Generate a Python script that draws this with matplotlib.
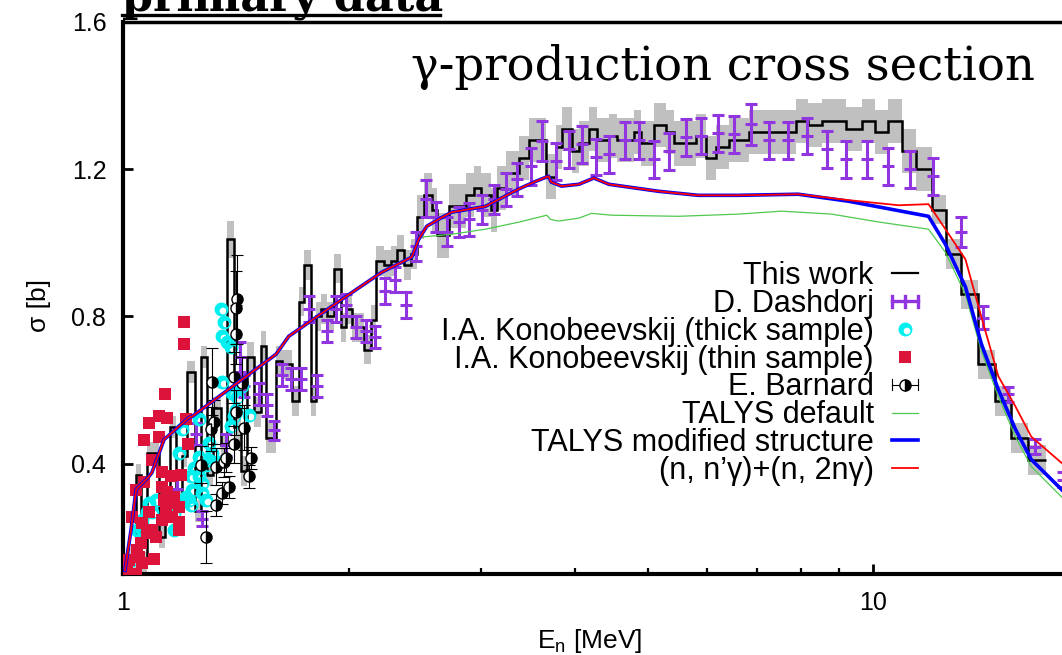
import numpy as np
import matplotlib
matplotlib.use("Agg")
import matplotlib.pyplot as plt
from matplotlib.lines import Line2D
from matplotlib.path import Path
from matplotlib.legend_handler import HandlerBase

# ---------------- data ----------------
# This work: histogram bin edges [MeV], cross section [b] and uncertainty [b]
work_edges = [1.009, 1.041, 1.057, 1.076, 1.117, 1.137, 1.155, 1.177, 1.198, 1.217,
              1.247, 1.270, 1.294, 1.318, 1.351, 1.376, 1.405, 1.436, 1.463, 1.494,
              1.527, 1.550, 1.599, 1.628, 1.679, 1.716, 1.742, 1.780, 1.808, 1.835,
              1.870, 1.910, 1.952, 1.982, 2.018, 2.050, 2.094, 2.140, 2.173, 2.227,
              2.275, 2.317, 2.367, 2.419, 2.464, 2.517, 2.579, 2.619, 2.717, 2.863,
              2.934, 2.997, 3.091, 3.148, 3.236, 3.368, 3.473, 3.559, 3.658, 3.772,
              3.842, 3.962, 4.048, 4.174, 4.277, 4.438, 4.548, 4.791, 4.895, 5.094,
              5.285, 5.416, 5.619, 5.794, 5.975, 6.161, 6.411, 6.817, 7.248, 7.874,
              8.192, 8.526, 9.178, 9.639, 10.06, 10.47, 10.90, 11.41, 11.95, 12.51,
              13.10, 13.80, 14.54, 15.27, 16.08, 17.00]
work_sigma = [0.14, 0.37, 0.13, 0.43, 0.20, 0.30, 0.50, 0.30, 0.42, 0.65,
              0.27, 0.69, 0.37, 0.55, 0.45, 1.01, 0.50, 0.38, 0.69, 0.54,
              0.72, 0.47, 0.68, 0.67, 0.57, 0.84, 0.94, 0.57, 0.80, 0.82,
              0.80, 0.93, 0.77, 0.82, 0.77, 0.77, 0.71, 0.79, 0.95, 0.94,
              0.95, 0.98, 0.94, 0.97, 1.07, 1.13, 1.09, 1.02, 1.10, 1.13,
              1.15, 1.13, 1.09, 1.15, 1.19, 1.23, 1.28, 1.28, 1.18, 1.26,
              1.31, 1.25, 1.27, 1.31, 1.28, 1.29, 1.28, 1.30, 1.27, 1.32,
              1.30, 1.27, 1.27, 1.29, 1.23, 1.26, 1.28, 1.30, 1.30, 1.33,
              1.32, 1.33, 1.31, 1.33, 1.30, 1.33, 1.25, 1.20, 1.09, 0.97,
              0.86, 0.67, 0.57, 0.47, 0.41]
work_err = [0.03] * 15 + [0.05] + [0.04] * 28 + [0.06] * 44 + [0.04] * 7

# D. Dashdorj
dash_E = [1.180, 1.251, 1.274, 1.371, 1.430, 1.450, 1.517, 1.554, 1.589, 1.628,
          1.674, 1.726, 1.769, 1.813, 1.869, 1.921, 1.982, 2.043, 2.106, 2.166,
          2.233, 2.303, 2.381, 2.455, 2.532, 2.611, 2.701, 2.802, 2.889, 3.006,
          3.119, 3.236, 3.347, 3.494, 3.614, 3.773, 3.926, 4.086, 4.265, 4.438,
          4.660, 4.865, 5.094, 5.333, 5.620, 5.884, 6.199, 6.510, 6.860, 7.248,
          7.685, 8.143, 8.660, 9.205, 9.790, 10.47, 11.20, 12.02, 13.06, 14.01,
          15.13, 16.43, 17.90]
dash_sigma = [0.33, 0.48, 0.25, 0.45, 0.69, 0.61, 0.59, 0.56, 0.49, 0.64,
              0.63, 0.63, 0.82, 0.61, 0.76, 0.82, 0.83, 0.77, 0.76, 0.745,
              0.87, 0.90, 0.83, 0.99, 1.12, 1.07, 1.03, 1.056, 1.064, 1.09,
              1.118, 1.146, 1.173, 1.208, 1.276, 1.222, 1.254, 1.268, 1.233, 1.241,
              1.279, 1.279, 1.227, 1.249, 1.287, 1.290, 1.298, 1.295, 1.322, 1.279,
              1.279, 1.290, 1.254, 1.227, 1.227, 1.208, 1.200, 1.181, 1.029, 0.797,
              0.588, 0.446, 0.356]
dash_err = [0.03, 0.03, 0.02, 0.03, 0.04, 0.03, 0.03, 0.03, 0.025, 0.03,
            0.03, 0.03, 0.035, 0.03, 0.03, 0.035, 0.03, 0.03, 0.03, 0.03,
            0.035, 0.035, 0.035, 0.04, 0.05, 0.04, 0.04, 0.04, 0.045, 0.04,
            0.04, 0.045, 0.045, 0.05, 0.055, 0.05, 0.05, 0.05, 0.05, 0.05,
            0.05, 0.05, 0.05, 0.05, 0.05, 0.05, 0.05, 0.05, 0.055, 0.05,
            0.05, 0.05, 0.05, 0.05, 0.05, 0.05, 0.05, 0.05, 0.04, 0.03,
            0.02, 0.02, 0.02]

# I.A. Konobeevskij, thick sample
thick_E = [1.350, 1.363, 1.355, 1.376, 1.393, 1.355, 1.397, 1.418, 1.440, 1.405,
           1.471, 1.262, 1.198, 1.187, 1.262, 1.302, 1.302, 1.236, 1.274, 1.083,
           1.093, 1.060, 1.169, 1.213, 1.262, 1.025, 1.314, 1.243, 1.290, 1.232,
           1.274, 1.224, 1.290, 1.232, 1.106, 1.076, 1.060, 1.044, 1.169, 1.334,
           1.393, 1.414]
thick_sigma = [0.820, 0.784, 0.746, 0.730, 0.718, 0.623, 0.593, 0.582, 0.610, 0.528,
               0.533, 0.520, 0.493, 0.430, 0.419, 0.457, 0.411, 0.329, 0.321, 0.294,
               0.269, 0.248, 0.267, 0.310, 0.365, 0.139, 0.430, 0.389, 0.397, 0.365,
               0.348, 0.302, 0.302, 0.288, 0.302, 0.269, 0.220, 0.220, 0.220, 0.403,
               0.501, 0.547]

# I.A. Konobeevskij, thin sample
thin_E = [1.206, 1.206, 1.137, 1.083, 1.117, 1.144, 1.213, 1.066, 1.117, 1.220,
          1.093, 1.127, 1.158, 1.194, 1.041, 1.066, 1.127, 1.144, 1.169, 1.134,
          1.162, 1.187, 1.083, 1.141, 1.028, 1.162, 1.187, 1.127, 1.093, 1.187,
          1.060, 1.076, 1.106, 1.057, 1.044, 1.019, 1.050, 1.100, 1.060, 1.012,
          1.041, 1.009]
thin_sigma = [0.784, 0.724, 0.590, 0.509, 0.528, 0.525, 0.522, 0.465, 0.473, 0.454,
              0.411, 0.376, 0.365, 0.370, 0.329, 0.351, 0.337, 0.324, 0.310, 0.302,
              0.294, 0.283, 0.269, 0.275, 0.256, 0.256, 0.242, 0.248, 0.220, 0.220,
              0.239, 0.212, 0.201, 0.185, 0.166, 0.139, 0.147, 0.141, 0.131, 0.120,
              0.100, 0.100]

# E. Barnard
barn_E = [1.314, 1.322, 1.310, 1.270, 1.330, 1.290, 1.363, 1.371, 1.405, 1.418,
          1.414, 1.414, 1.405, 1.440, 1.414, 1.449, 1.480, 1.471, 1.384, 1.355, 1.330]
barn_sigma = [0.623, 0.514, 0.493, 0.397, 0.392, 0.201, 0.403, 0.416, 0.452, 0.846,
              0.824, 0.751, 0.634, 0.620, 0.539, 0.498, 0.416, 0.365, 0.337, 0.321, 0.288]
barn_err = [0.09, 0.06, 0.06, 0.05, 0.05, 0.07, 0.04, 0.04, 0.05, 0.12,
            0.10, 0.08, 0.07, 0.07, 0.06, 0.06, 0.03, 0.03, 0.03, 0.03, 0.03]

# TALYS calculations
sum_E = [1.006, 1.025, 1.041, 1.083, 1.093, 1.134, 1.141, 1.224, 1.236, 1.599,
         1.663, 1.982, 2.212, 2.425, 2.478, 2.540, 2.634, 2.740, 3.040, 3.168,
         3.366, 3.548, 3.690, 3.720, 3.840, 4.050, 4.240, 4.440, 5.170, 5.840,
         6.610, 7.940, 9.260, 10.80, 11.84, 12.47, 13.26, 13.93, 14.67, 15.46,
         16.23, 17.90]
sum_sigma = [0.110, 0.220, 0.330, 0.365, 0.376, 0.465, 0.470, 0.525, 0.528, 0.697,
             0.746, 0.854, 0.920, 0.961, 1.010, 1.045, 1.064, 1.083, 1.099, 1.118,
             1.146, 1.167, 1.181, 1.165, 1.154, 1.159, 1.176, 1.159, 1.140, 1.129,
             1.129, 1.132, 1.116, 1.102, 1.105, 1.037, 0.955, 0.797, 0.637, 0.555,
             0.473, 0.398]

mod_E = [1.006, 1.025, 1.041, 1.083, 1.093, 1.134, 1.141, 1.224, 1.236, 1.599,
         1.663, 1.982, 2.212, 2.425, 2.478, 2.540, 2.634, 2.740, 3.040, 3.168,
         3.366, 3.548, 3.690, 3.720, 3.840, 4.050, 4.240, 4.440, 5.170, 5.840,
         6.610, 7.940, 9.260, 11.84, 12.47, 13.26, 13.93, 14.67, 15.46, 16.23,
         17.90]
mod_sigma = [0.110, 0.220, 0.330, 0.365, 0.376, 0.465, 0.470, 0.525, 0.528, 0.697,
             0.746, 0.854, 0.920, 0.961, 1.010, 1.045, 1.064, 1.083, 1.099, 1.118,
             1.146, 1.167, 1.181, 1.165, 1.154, 1.159, 1.176, 1.159, 1.140, 1.129,
             1.129, 1.132, 1.113, 1.072, 0.996, 0.880, 0.724, 0.601, 0.493, 0.411,
             0.325]

def_E = [1.006, 1.025, 1.041, 1.083, 1.093, 1.134, 1.141, 1.224, 1.236, 1.599,
         1.663, 1.982, 2.212, 2.425, 2.478, 2.740, 3.040, 3.366, 3.670, 3.710,
         3.800, 4.050, 4.210, 4.480, 5.500, 6.610, 7.540, 8.790, 10.20, 11.84,
         12.47, 13.26, 13.93, 14.67, 15.46, 16.23, 17.90]
def_sigma = [0.110, 0.220, 0.330, 0.365, 0.376, 0.465, 0.470, 0.525, 0.528, 0.697,
             0.746, 0.854, 0.920, 0.961, 1.015, 1.023, 1.037, 1.056, 1.075, 1.064,
             1.059, 1.067, 1.080, 1.075, 1.072, 1.078, 1.086, 1.078, 1.056, 1.037,
             0.974, 0.860, 0.705, 0.582, 0.473, 0.392, 0.305]

labels = ["This work", "D. Dashdorj", "I.A. Konobeevskij (thick sample)",
          "I.A. Konobeevskij (thin sample)", "E. Barnard", "TALYS default",
          "TALYS modified structure", "(n, n\u2019\u03b3)+(n, 2n\u03b3)"]

# ---------------- style ----------------
PURPLE = "#9035e0"
CYAN = "#00f0f0"
CRIMSON = "#dc143c"
GREY = "#c0c0c0"
GREEN = "#4fc94f"
SANS = ["Liberation Sans", "DejaVu Sans"]
SERIF = ["DejaVu Serif"]

plt.rcParams["font.family"] = SANS


def ring_path():
    t = np.linspace(0, 2 * np.pi, 41)
    outer = np.c_[np.cos(t), np.sin(t)]
    inner = np.c_[0.22 + 0.48 * np.cos(-t), -0.22 + 0.48 * np.sin(-t)]
    verts = np.vstack([outer, inner])
    codes = ([Path.MOVETO] + [Path.LINETO] * 39 + [Path.CLOSEPOLY]) * 2
    return Path(verts, codes)


RING = ring_path()
BARN_KW = dict(marker="o", ms=8, fillstyle="right", markerfacecolor="black",
               markerfacecoloralt="white", markeredgecolor="black", mew=1.0)

W, H = 1062, 655
fig = plt.figure(figsize=(W / 100, H / 100), dpi=100)
ax = fig.add_axes([123 / W, 1 - 574 / H, 1.1 - 123 / W, 552 / H])
ax.set_xscale("log")
ax.set_xlim(1, 24.7)
ax.set_ylim(0.1, 1.6)

edges = np.array(work_edges)
vals = np.array(work_sigma)
errs = np.array(work_err)
ax.bar(edges[:-1], 2 * errs, width=np.diff(edges), bottom=vals - errs,
       align="edge", color=GREY, lw=0, zorder=1)
ax.stairs(vals, edges, baseline=None, color="black", lw=1.8, zorder=2)

ax.errorbar(dash_E, dash_sigma, yerr=dash_err, fmt="_", color=PURPLE, ms=8, mew=2.2,
            elinewidth=2.2, capsize=4.5, capthick=2.2, zorder=3)
ax.plot(thick_E, thick_sigma, ls="none", marker=RING, ms=10, color=CYAN, mew=0, zorder=4)
ax.plot(thin_E, thin_sigma, ls="none", marker="s", ms=8.5, color=CRIMSON, mew=0, zorder=5)
ax.errorbar(barn_E, barn_sigma, yerr=barn_err, fmt="none", ecolor="black",
            elinewidth=0.8, capsize=4, capthick=0.8, zorder=6)
ax.plot(barn_E, barn_sigma, ls="none", zorder=6, **BARN_KW)
ax.plot(def_E, def_sigma, color=GREEN, lw=0.9, zorder=7)
ax.plot(mod_E, mod_sigma, color="#0000ff", lw=2.6, zorder=8)
ax.plot(sum_E, sum_sigma, color="#ff0000", lw=1.3, zorder=9)

# axes frame and ticks
for side in ("left", "bottom"):
    ax.spines[side].set_linewidth(3)
ax.spines["top"].set_linewidth(2.5)
ax.spines["right"].set_visible(False)
ax.set_yticks([0.4, 0.8, 1.2, 1.6])
ax.set_yticklabels(["0.4", "0.8", "1.2", "1.6"])
ax.set_xticks([1, 10])
ax.set_xticklabels(["1", "10"])
ax.set_xticks([2, 3, 4, 5, 6, 7, 8, 9, 20], minor=True)
ax.tick_params(axis="both", which="major", direction="in", length=7, width=2,
               labelsize=18, top=False, right=False)
ax.tick_params(axis="x", which="major", pad=12)
ax.tick_params(axis="y", which="major", pad=12)
ax.tick_params(axis="x", which="minor", direction="in", length=4, width=1.6,
               labelbottom=False, top=False)
ax.set_xlabel("E$_\\mathregular{n}$ [MeV]", fontsize=19)
ax.set_ylabel("\u03c3 [b]", fontsize=19)
ax.xaxis.set_label_coords((590 - 123) / (1.1 * W - 123), -53 / 552)
ax.yaxis.set_label_coords(-72 / (1.1 * W - 123), (574 - 305) / 552)


# legend samples
class BarSample(HandlerBase):
    def __init__(self, color, lw, mid_tick=False, marker_kw=None):
        super().__init__()
        self.color, self.lw, self.mid_tick, self.marker_kw = color, lw, mid_tick, marker_kw

    def create_artists(self, legend, orig_handle, xdescent, ydescent, width,
                       height, fontsize, trans):
        y = height / 2 - ydescent
        x0, x1 = -xdescent, -xdescent + width
        xm = 0.5 * (x0 + x1)
        c = 0.25 * height
        arts = [Line2D([x0, x1], [y, y], color=self.color, lw=self.lw)]
        xs = [x0, x1] + ([xm] if self.mid_tick else [])
        for xx in xs:
            arts.append(Line2D([xx, xx], [y - c, y + c], color=self.color, lw=self.lw))
        if self.marker_kw:
            arts.append(Line2D([xm], [y], ls="none", **self.marker_kw))
        for a in arts:
            a.set_transform(trans)
        return arts


h_work = Line2D([], [], color="black", lw=1.6)
h_dash = Line2D([], [], color=PURPLE)
h_thick = Line2D([], [], ls="none", marker=RING, ms=10, color=CYAN, mew=0)
h_thin = Line2D([], [], ls="none", marker="s", ms=8.5, color=CRIMSON, mew=0)
h_barn = Line2D([], [], color="black")
h_def = Line2D([], [], color=GREEN, lw=0.9)
h_mod = Line2D([], [], color="#0000ff", lw=2.6)
h_sum = Line2D([], [], color="#ff0000", lw=1.3)
handler_map = {
    h_dash: BarSample(PURPLE, 2.4, mid_tick=True),
    h_barn: BarSample("black", 0.8, marker_kw=BARN_KW),
}
leg = fig.legend([h_work, h_dash, h_thick, h_thin, h_barn, h_def, h_mod, h_sum], labels,
                 handler_map=handler_map, loc="upper right",
                 bbox_to_anchor=(918 / W, 1 - 261 / H), bbox_transform=fig.transFigure,
                 frameon=False, markerfirst=False, fontsize=22, handlelength=0.85,
                 handletextpad=0.6, labelspacing=-0.07, borderpad=0, borderaxespad=0,
                 numpoints=1)

fig.text(1035 / W, 1 - 80 / H, "\u03b3-production cross section", family=SERIF,
         fontsize=33.5, ha="right", va="baseline")
fig.text(122 / W, 1 - 11 / H, "primary data", family=SERIF, fontweight="bold",
         fontsize=32, ha="left", va="baseline")
fig.add_artist(Line2D([122 / W, 440 / W], [1 - 15 / H, 1 - 15 / H], color="black",
                      lw=2.4, transform=fig.transFigure))

fig.savefig("out.png", dpi=100)
